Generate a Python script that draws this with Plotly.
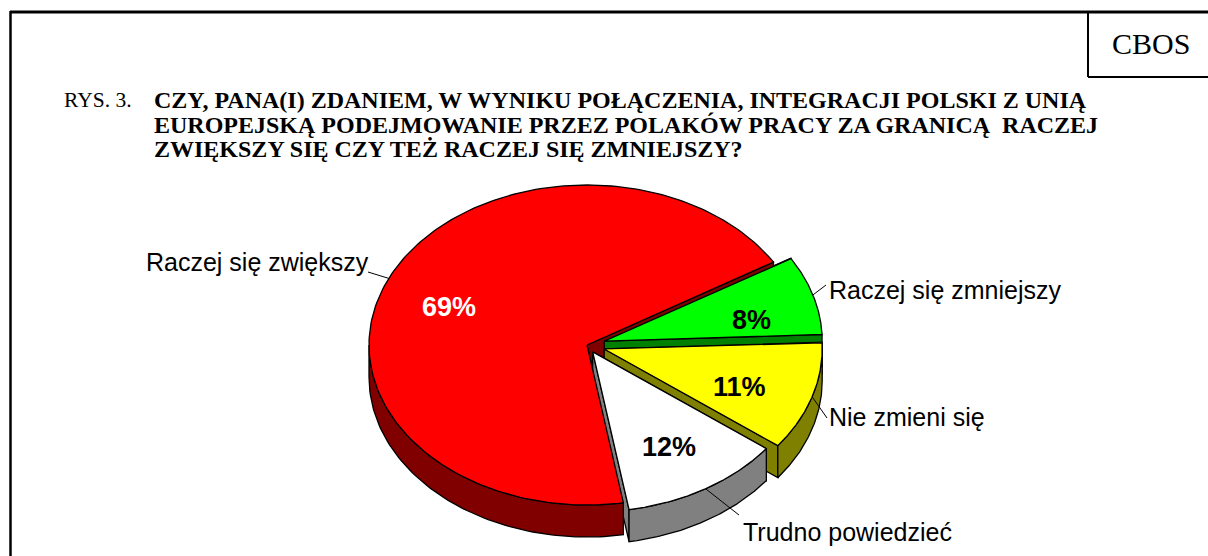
import numpy as np
import plotly.graph_objects as go

# ---------------- data ----------------
categories = ["Raczej się zwiększy", "Raczej się zmniejszy", "Nie zmieni się", "Trudno powiedzieć"]
values = [69, 8, 11, 12]
pct_labels = ["69%", "8%", "11%", "12%"]

# ---------------- style ----------------
top_colors = ["#FF0000", "#00FF00", "#FFFF00", "#FFFFFF"]
side_colors = ["#800000", "#008000", "#808000", "#808080"]
pct_colors = ["white", "black", "black", "black"]
pct_nudge = [(-3, 7), (5, 10), (-6, 6), (0, 2)]
explode = [0, 18, 18, 11]

W, Hfig = 1208, 556
CX, CY = 587, 345          # pie centre (px)
RX, RY = 218, 160          # ellipse radii of the tilted pie
DEPTH = 32                 # thickness of the pie
START = 279.6              # math angle (deg) where the first slice starts, going clockwise
OUTLINE = dict(color="black", width=1.3)

fig = go.Figure()

total = float(sum(values))
bounds = []
a = START
for v in values:
    span = 360.0 * v / total
    bounds.append((a - span, a))   # (lo, hi) in math degrees
    a -= span


def offset(i):
    lo, hi = bounds[i]
    m = np.radians((lo + hi) / 2)
    d = explode[i]
    return d * np.cos(m), -d * np.sin(m) * RY / RX


def pt(theta_deg, i, z=0.0, r=1.0):
    ox, oy = offset(i)
    t = np.radians(theta_deg)
    return (CX + ox + r * RX * np.cos(t), CY + oy - r * RY * np.sin(t) + z)


def poly(xs, ys, color, name):
    fig.add_trace(go.Scatter(x=list(xs) + [xs[0]], y=list(ys) + [ys[0]], mode="lines",
                             fill="toself", fillcolor=color, line=OUTLINE,
                             hoverinfo="skip", name=name, showlegend=False))


walls = []
for i, (lo, hi) in enumerate(bounds):
    # radial walls
    for th in (lo, hi):
        ax, ay = pt(0, i, 0, 0)
        p1 = pt(th, i, 0)
        p2 = pt(th, i, DEPTH)
        xs = [ax, p1[0], p2[0], ax]
        ys = [ay, p1[1], p2[1], ay + DEPTH]
        walls.append((np.mean(ys), xs, ys, side_colors[i], categories[i]))
    # curved outer wall (front-facing part)
    for k in range(-2, 3):
        f0, f1 = 180 + 360 * k, 360 + 360 * k
        s0, s1 = max(lo, f0), min(hi, f1)
        if s1 - s0 > 0.05:
            th = np.linspace(s0, s1, 80)
            top = [pt(t, i, 0) for t in th]
            bot = [pt(t, i, DEPTH) for t in th[::-1]]
            xs = [p[0] for p in top] + [p[0] for p in bot]
            ys = [p[1] for p in top] + [p[1] for p in bot]
            walls.append((np.mean(ys), xs, ys, side_colors[i], categories[i]))

for _, xs, ys, c, n in sorted(walls, key=lambda w: w[0]):
    poly(xs, ys, c, n)

# top faces
for i, (lo, hi) in enumerate(bounds):
    th = np.linspace(hi, lo, 200)
    ax, ay = pt(0, i, 0, 0)
    xs = [ax] + [pt(t, i)[0] for t in th]
    ys = [ay] + [pt(t, i)[1] for t in th]
    poly(xs, ys, top_colors[i], categories[i])

# percentage labels
for i, (lo, hi) in enumerate(bounds):
    m = (lo + hi) / 2
    x, y = pt(m, i, 0, 0.68)
    fig.add_annotation(x=x + pct_nudge[i][0], y=y + pct_nudge[i][1],
                       text="<b>%s</b>" % pct_labels[i], showarrow=False,
                       font=dict(family="Liberation Sans, Arial", size=27, color=pct_colors[i]),
                       xanchor="center", yanchor="middle")

# category labels with leader lines
label_pos = [  # leader end x, leader end y, text x, text y, anchor
    (368, 272, 371, 262, "right"),
    (826, 285, 827, 290, "left"),
    (827, 418, 827, 417, "left"),
    (739, 515, 741, 532, "left"),
]
for i, (lo, hi) in enumerate(bounds):
    m = (lo + hi) / 2
    sx, sy = pt(m, i, 0, 1.0)
    ex, ey, tx, ty, anc = label_pos[i]
    fig.add_trace(go.Scatter(x=[sx, ex], y=[sy, ey], mode="lines",
                             line=dict(color="black", width=1), hoverinfo="skip", showlegend=False))
    fig.add_annotation(x=tx, y=ty, text=categories[i], showarrow=False,
                       font=dict(family="Liberation Sans, Arial", size=25, color="black"),
                       xanchor=anc, yanchor="middle")

# title
title_lines = [
    "CZY, PANA(I) ZDANIEM, W WYNIKU POŁĄCZENIA, INTEGRACJI POLSKI Z UNIĄ",
    "EUROPEJSKĄ PODEJMOWANIE PRZEZ POLAKÓW PRACY ZA GRANICĄ  RACZEJ",
    "ZWIĘKSZY SIĘ CZY TEŻ RACZEJ SIĘ ZMNIEJSZY?",
]
serif = "Liberation Serif, Times New Roman"
fig.add_annotation(x=62, y=100, text="RYS. 3.", showarrow=False, xanchor="left", yanchor="middle",
                   font=dict(family=serif, size=21.5, color="black"))
for k, line in enumerate(title_lines):
    fig.add_annotation(x=152, y=100 + 24.5 * k, text="<b>%s</b>" % line.replace("  ", "&nbsp; "),
                       showarrow=False, xanchor="left", yanchor="middle",
                       font=dict(family=serif, size=24, color="black"))

# CBOS box
fig.add_annotation(x=1151, y=43, text="CBOS", showarrow=False, xanchor="center", yanchor="middle",
                   font=dict(family=serif, size=30, color="black"))

shapes = [
    dict(type="line", x0=10, y0=12, x1=1210, y1=12, line=dict(color="black", width=3)),
    dict(type="line", x0=10.5, y0=11, x1=10.5, y1=560, line=dict(color="black", width=2.5)),
    dict(type="line", x0=1088, y0=12, x1=1088, y1=77, line=dict(color="black", width=2)),
    dict(type="line", x0=1088, y0=77, x1=1210, y1=77, line=dict(color="black", width=2)),
]

fig.update_layout(
    width=W, height=Hfig, margin=dict(l=0, r=0, t=0, b=0),
    paper_bgcolor="white", plot_bgcolor="white", showlegend=False,
    xaxis=dict(range=[0, W], visible=False, fixedrange=True),
    yaxis=dict(range=[Hfig, 0], visible=False, fixedrange=True),
    shapes=shapes,
)

fig.write_html("out.html")
